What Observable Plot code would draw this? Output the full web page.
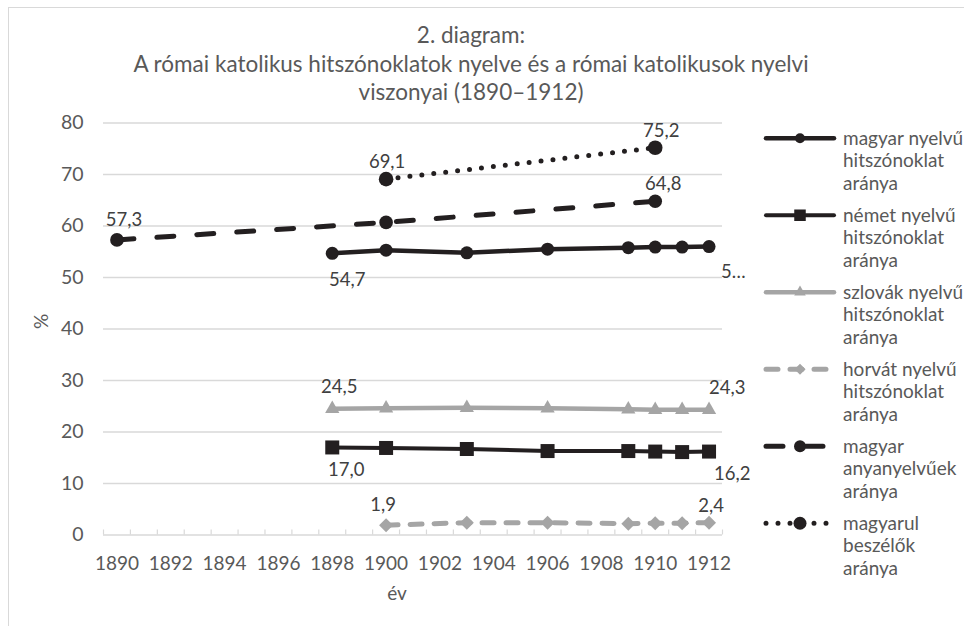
<!DOCTYPE html>
<html>
<head>
<meta charset="utf-8">
<script src="https://cdn.jsdelivr.net/npm/d3@7"></script>
<script src="https://cdn.jsdelivr.net/npm/@observablehq/plot@0.6"></script>
<style>
  html, body { margin: 0; padding: 0; background: #fff; }
  #wrap { position: relative; width: 964px; height: 626px; overflow: hidden; background: #fff; font-family: Lato, sans-serif; }
  #frame { position: absolute; left: 8px; top: 7px; width: 1000px; height: 700px; border-left: 1.5px solid #d9d9d9; border-top: 1.5px solid #d9d9d9; pointer-events: none; }
  #title { height: 110px; box-sizing: border-box; padding-top: 21px; width: 942px; text-align: center; color: #595959; font-size: 22.5px; line-height: 28.5px; }
  #legend { position: absolute; left: 763px; top: 126.5px; width: 260px; color: #595959; font-size: 19px; line-height: 22.5px; white-space: nowrap; }
  .entry { display: flex; align-items: flex-start; margin-bottom: 9.5px; }
  .entry svg { flex: none; margin-right: 6px; }
</style>
</head>
<body>
<div id="wrap">
  <div id="frame"></div>
  <div id="title">2. diagram:<br>A római katolikus hitszónoklatok nyelve és a római katolikusok nyelvi<br>viszonyai (1890–1912)</div>
  <div id="chart"></div>
  <div id="legend"></div>
</div>
<script>
// ---- data ----
const seriesNames = [
  "magyar nyelvű hitszónoklat aránya",
  "német nyelvű hitszónoklat aránya",
  "szlovák nyelvű hitszónoklat aránya",
  "horvát nyelvű hitszónoklat aránya",
  "magyar anyanyelvűek aránya",
  "magyarul beszélők aránya"
];
const legendLines = [
  ["magyar nyelvű", "hitszónoklat", "aránya"],
  ["német nyelvű", "hitszónoklat", "aránya"],
  ["szlovák nyelvű", "hitszónoklat", "aránya"],
  ["horvát nyelvű", "hitszónoklat", "aránya"],
  ["magyar", "anyanyelvűek", "aránya"],
  ["magyarul", "beszélők", "aránya"]
];
const sermonYears = [1898, 1900, 1903, 1906, 1909, 1910, 1911, 1912];
const hungarianSermons = [54.7, 55.3, 54.8, 55.5, 55.8, 55.9, 55.9, 56.0];
const germanSermons = [17.0, 16.9, 16.7, 16.3, 16.3, 16.2, 16.1, 16.2];
const slovakSermons = [24.5, 24.6, 24.7, 24.6, 24.4, 24.3, 24.3, 24.3];
const croatianYears = [1900, 1903, 1906, 1909, 1910, 1911, 1912];
const croatianSermons = [1.9, 2.4, 2.4, 2.2, 2.3, 2.3, 2.4];
const nativeYears = [1890, 1900, 1910];
const nativeHungarian = [57.3, 60.7, 64.8];
const speakerYears = [1900, 1910];
const hungarianSpeakers = [69.1, 75.2];
const xTicks = [1890, 1892, 1894, 1896, 1898, 1900, 1902, 1904, 1906, 1908, 1910, 1912];
const yTicks = [0, 10, 20, 30, 40, 50, 60, 70, 80];

// ---- styles ----
const BLACK = "#231f20", GRAY = "#a5a5a5";
const styles = [
  {stroke: BLACK, width: 4.5, dash: null, cap: "round", symbol: "circle", r: 6.5, lr: 5},
  {stroke: BLACK, width: 4, dash: null, cap: "round", symbol: "square", r: 7.9, lr: 6.5},
  {stroke: GRAY, width: 4.5, dash: null, cap: "round", symbol: "triangle", r: 5.3, lr: 4.3},
  {stroke: GRAY, width: 5, dash: "12,12", cap: "round", symbol: "diamond2", r: 6.3, lr: 5},
  {stroke: BLACK, width: 5, dash: "17,23", cap: "round", symbol: "circle", r: 6.8, lr: 6},
  {stroke: BLACK, width: 5, dash: "0,12", cap: "round", symbol: "circle", r: 7.3, lr: 6.5}
];

const toRows = (xs, ys) => xs.map((x, i) => ({x, y: ys[i]}));
const allSeries = [
  toRows(sermonYears, hungarianSermons),
  toRows(sermonYears, germanSermons),
  toRows(sermonYears, slovakSermons),
  toRows(croatianYears, croatianSermons),
  toRows(nativeYears, nativeHungarian),
  toRows(speakerYears, hungarianSpeakers)
];
const fmt = v => d3.format(".1f")(v).replace(".", ",");
const boundaries = d3.range(xTicks[0] - 0.5, xTicks[xTicks.length - 1] + 1, 1);

// label placement (first / last point of each series)
const labelOpts = [
  [{dx: 15, dy: 27}, {dx: 12, dy: 25, textAnchor: "start", trunc: true}],
  [{dx: 14, dy: 23}, {dx: 5, dy: 23, textAnchor: "start"}],
  [{dx: 7, dy: -22}, {dx: 0, dy: -22, textAnchor: "start"}],
  [{dx: -3, dy: -20}, {dx: 2, dy: -17}],
  [{dx: 7, dy: -20}, {dx: 8, dy: -17}],
  [{dx: 1, dy: -17}, {dx: 6, dy: -17}]
];

const marks = [
  Plot.gridY(yTicks.filter(d => d > 0), {stroke: "#d9d9d9", strokeOpacity: 1, strokeWidth: 1.5}),
  Plot.ruleY([0], {stroke: "#d9d9d9", strokeWidth: 1.5}),
  Plot.axisX(boundaries, {tickSize: 5, dy: -5, tickFormat: () => "", stroke: "#d9d9d9", strokeWidth: 1.2, label: null}),
  Plot.axisX(xTicks, {tickSize: 0, tickPadding: 21, tickFormat: d => String(d), label: null, fill: "#595959", fontSize: 19}),
  Plot.axisY(yTicks, {tickSize: 0, tickPadding: 20, label: null, fill: "#595959", fontSize: 19.5})
];
allSeries.forEach((rows, i) => {
  const s = styles[i];
  marks.push(Plot.line(rows, {x: "x", y: "y", stroke: s.stroke, strokeWidth: s.width,
    strokeDasharray: s.dash, strokeLinecap: s.cap, strokeLinejoin: "round"}));
});
allSeries.forEach((rows, i) => {
  const s = styles[i];
  marks.push(Plot.dot(rows, {x: "x", y: "y", symbol: s.symbol, r: s.r, fill: s.stroke, stroke: "none"}));
});
allSeries.forEach((rows, i) => {
  [rows[0], rows[rows.length - 1]].forEach((row, j) => {
    const o = labelOpts[i][j];
    const txt = o.trunc ? fmt(row.y).slice(0, 1) + "…" : fmt(row.y);
    marks.push(Plot.text([row], {x: "x", y: "y", text: () => txt, dx: o.dx, dy: o.dy,
      textAnchor: o.textAnchor || "middle", fill: "#404040", fontSize: 18.5}));
  });
});
marks.push(Plot.text(["év"], {frameAnchor: "bottom", dy: 65, dx: -16, fill: "#595959", fontSize: 19}));
marks.push(Plot.text(["%"], {frameAnchor: "left", dx: -62, rotate: -90, fill: "#595959", fontSize: 19}));

const chart = Plot.plot({
  width: 964,
  height: 516,
  marginLeft: 103,
  marginRight: 242,
  marginTop: 12.5,
  marginBottom: 91.5,
  x: {domain: [boundaries[0], boundaries[boundaries.length - 1]]},
  y: {domain: [0, 80]},
  style: {fontFamily: "Lato, sans-serif", fontSize: "19px", color: "#595959", background: "transparent", overflow: "visible"},
  marks
});
document.getElementById("chart").appendChild(chart);

// ---- legend ----
const legend = d3.select("#legend");
styles.forEach((s, i) => {
  const entry = legend.append("div").attr("class", "entry");
  const svg = entry.append("svg").attr("width", 74).attr("height", 22.5);
  const cy = 11.25;
  svg.append("line").attr("x1", 3).attr("x2", 71).attr("y1", cy).attr("y2", cy)
    .attr("stroke", s.stroke).attr("stroke-width", s.width)
    .attr("stroke-dasharray", s.dash).attr("stroke-linecap", s.cap);
  const symType = {circle: d3.symbolCircle, square: d3.symbolSquare, triangle: d3.symbolTriangle, diamond2: d3.symbolDiamond2}[s.symbol];
  svg.append("path").attr("d", d3.symbol(symType, s.lr * s.lr * Math.PI)())
    .attr("transform", `translate(37,${cy})`).attr("fill", s.stroke);
  entry.append("div").html(legendLines[i].join("<br>"));
});
</script>
</body>
</html>
